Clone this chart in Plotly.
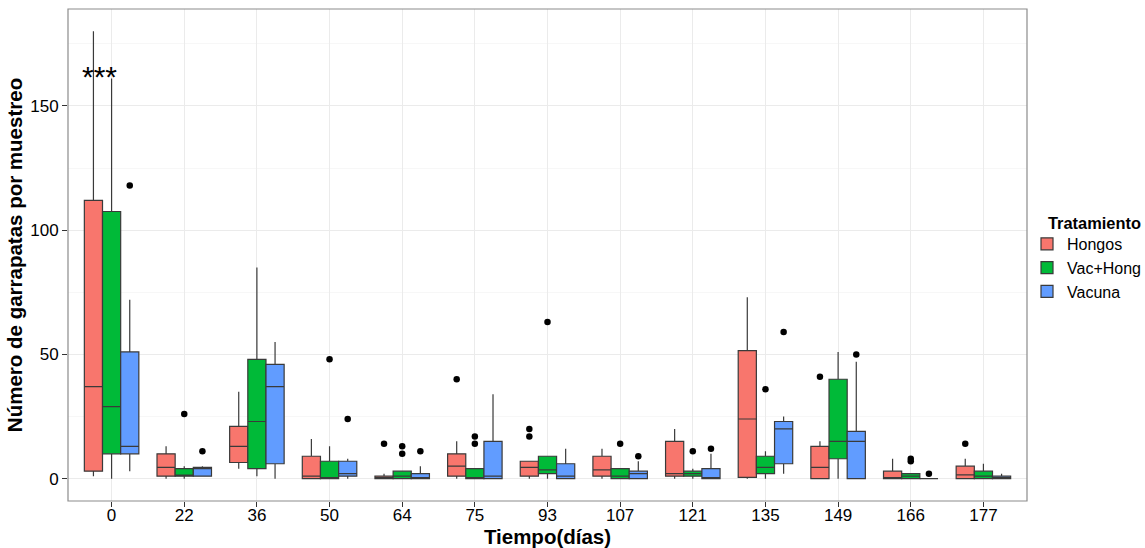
import plotly.graph_objects as go

days = ["0", "22", "36", "50", "64", "75", "93", "107", "121", "135", "149", "166", "177"]
treatments = ["Hongos", "Vac+Hong", "Vacuna"]
colors = ["#F8766D", "#00BA38", "#619CFF"]

# Hongos
hongos_low = [1, 0, 4, 0, 0, 0, 0, 0, 0, 0, 0, 0, 0]
hongos_q1 = [3, 1, 6.5, 0, 0, 1, 1, 1, 1, 0.5, 0, 0, 0]
hongos_med = [37, 4.5, 13, 1, 0, 5, 4.5, 3.5, 2, 24, 4.5, 0, 1.5]
hongos_q3 = [112, 10, 21, 9, 1, 10, 7, 9, 15, 51.5, 13, 3, 5]
hongos_high = [180, 13, 35, 16, 2, 15, 7, 12, 20, 73, 15, 8, 8]
hongos_out_day = ["64", "75", "93", "93", "149", "177"]
hongos_out_val = [14, 40, 20, 17, 41, 14]

# Vac+Hong
vachong_low = [0, 0, 1, 0, 0, 0, 0, 0, 0, 0, 0, 0, 0]
vachong_q1 = [10, 1, 4, 0, 0, 0, 2, 0, 1, 2, 8, 0, 0]
vachong_med = [29, 1, 23, 0, 1, 0, 3.5, 1, 2, 4.5, 15, 1, 1]
vachong_q3 = [107.5, 4, 48, 7, 3, 4, 9, 4, 3, 9, 40, 2, 3]
vachong_high = [161, 5, 85, 13, 3, 4, 9, 4, 4, 11, 51, 2, 6]
vachong_out_day = ["22", "50", "64", "64", "75", "75", "93", "107", "121", "135", "166", "166"]
vachong_out_val = [26, 48, 13, 10, 17, 14, 63, 14, 11, 36, 8, 7]

# Vacuna
vacuna_low = [3, 1, 0, 0, 0, 0, 0, 0, 0, 2, 0, 0, 0]
vacuna_q1 = [10, 1, 6, 1, 0, 0, 0, 0, 0, 6, 0, 0, 0]
vacuna_med = [13, 4, 37, 2, 0, 1, 1, 2, 0, 20, 15, 0, 0]
vacuna_q3 = [51, 4.5, 46, 7, 2, 15, 6, 3, 4, 23, 19, 0, 1]
vacuna_high = [72, 5, 55, 8, 5, 34, 12, 7, 10, 25, 47, 0, 2]
vacuna_out_day = ["0", "22", "50", "64", "107", "121", "135", "149", "166"]
vacuna_out_val = [118, 11, 24, 11, 9, 12, 59, 50, 2]

y_ticks = [0, 50, 100, 150]

stats = [
    (hongos_low, hongos_q1, hongos_med, hongos_q3, hongos_high, hongos_out_day, hongos_out_val),
    (vachong_low, vachong_q1, vachong_med, vachong_q3, vachong_high, vachong_out_day, vachong_out_val),
    (vacuna_low, vacuna_q1, vacuna_med, vacuna_q3, vacuna_high, vacuna_out_day, vacuna_out_val),
]

FONT = "Liberation Sans, Arial, sans-serif"
dodge = 0.25
fig = go.Figure()

for i, (name, col, st) in enumerate(zip(treatments, colors, stats)):
    low, q1, med, q3, high, od, ov = st
    off = (i - 1) * dodge
    xs = [k + off for k in range(len(days))]
    fig.add_trace(go.Box(
        x=xs, q1=q1, median=med, q3=q3, lowerfence=low, upperfence=high,
        width=dodge, name=name, fillcolor=col,
        line=dict(color="#3a3a3a", width=1.2), whiskerwidth=0,
        boxpoints=False, legendgroup=name, hoverinfo="skip",
    ))

for i, (name, st) in enumerate(zip(treatments, stats)):
    od, ov = st[5], st[6]
    off = (i - 1) * dodge
    fig.add_trace(go.Scatter(
        x=[days.index(d) + off for d in od], y=ov, mode="markers",
        marker=dict(color="black", size=6.5), showlegend=False,
        legendgroup=name, hoverinfo="skip",
    ))

fig.add_annotation(x=-0.17, y=162, text="***", showarrow=False,
                   font=dict(family=FONT, size=30, color="black"),
                   xanchor="center", yanchor="middle")

# legend title
fig.add_annotation(xref="paper", yref="paper", x=1.0198, y=0.565, text="<b>Tratamiento</b>",
                   showarrow=False, xanchor="left", yanchor="middle",
                   font=dict(family=FONT, size=16.4, color="black"))

fig.add_shape(type="rect", xref="paper", yref="paper", x0=0, y0=0, x1=1, y1=1,
              line=dict(color="#8c8c8c", width=1.2), fillcolor="rgba(0,0,0,0)", layer="above")

fig.update_layout(
    width=1145, height=548,
    margin=dict(l=68, r=118, t=9, b=47, autoexpand=False),
    paper_bgcolor="white", plot_bgcolor="white",
    font=dict(family=FONT, size=17, color="black"),
    boxmode="overlay",
    showlegend=True,
    legend=dict(
        font=dict(family=FONT, size=16),
        x=1.0, xanchor="left", y=0.557, yanchor="top",
        bgcolor="rgba(0,0,0,0)", borderwidth=0, tracegroupgap=0,
        itemwidth=30,
    ),
    xaxis=dict(
        range=[-0.6, 12.6], tickmode="array", tickvals=list(range(len(days))), ticktext=days,
        showgrid=True, gridcolor="#EBEBEB", gridwidth=1, zeroline=False,
        ticks="outside", ticklen=5, tickcolor="#333333", tickwidth=1,
        ticklabelstandoff=-6,
        tickfont=dict(family=FONT, size=17, color="black"),
        title=dict(text="<b>Tiempo(días)</b>", font=dict(family=FONT, size=20.5), standoff=9),
        showline=False, automargin=False,
    ),
    yaxis=dict(
        range=[-9, 189], tickmode="array", tickvals=y_ticks,
        showgrid=True, gridcolor="#EBEBEB", gridwidth=1, zeroline=False,
        minor=dict(tickmode="array", tickvals=[25, 75, 125, 175], showgrid=True, gridcolor="#F7F7F7", gridwidth=1, ticks=""),
        ticks="outside", ticklen=5, tickcolor="#333333", tickwidth=1,
        tickfont=dict(family=FONT, size=17, color="black"),
        title=dict(text="<b>Número de garrapatas por muestreo</b>", font=dict(family=FONT, size=20.5), standoff=2),
        showline=False, automargin=False,
    ),
)

fig.write_html("out.html")
